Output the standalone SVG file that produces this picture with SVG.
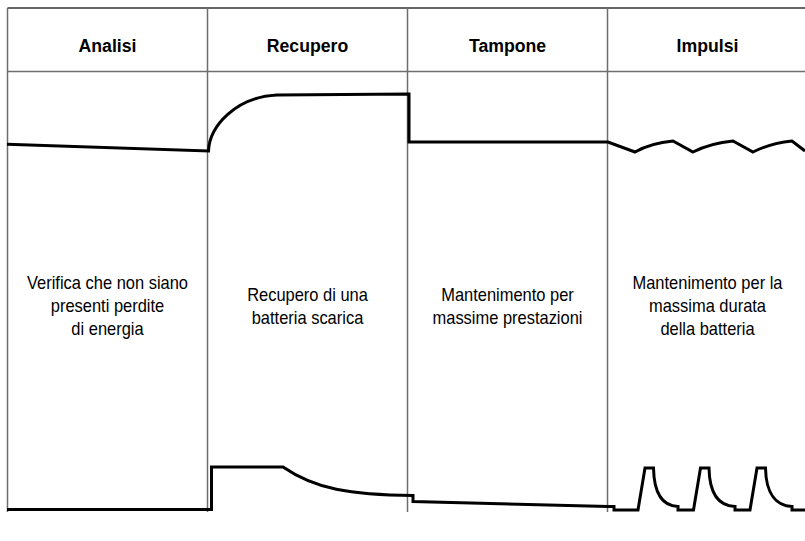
<svg xmlns="http://www.w3.org/2000/svg" width="805" height="541" viewBox="0 0 805 541">
<style>
.grid{stroke:#6e6e6e;stroke-width:1.5;fill:none}
.top{stroke:#333;stroke-width:1.5;fill:none}
.wave{stroke:#000;stroke-width:3;fill:none;stroke-linejoin:miter}
.hdr{font-family:"Liberation Sans",Arial,sans-serif;font-weight:bold;font-size:19px;fill:#000;text-anchor:middle}
.body{font-family:"Liberation Sans",Arial,sans-serif;font-size:18.5px;fill:#000;text-anchor:middle}
</style>
<rect width="805" height="541" fill="#fff"/>
<g id="grid">
<line class="top" x1="7.5" y1="8" x2="805" y2="8"/>
<line class="grid" x1="7.5" y1="71.5" x2="805" y2="71.5"/>
<line class="grid" x1="7.5" y1="8" x2="7.5" y2="512"/>
<line class="grid" x1="207.5" y1="8" x2="207.5" y2="512"/>
<line class="grid" x1="407.5" y1="8" x2="407.5" y2="512"/>
<line class="grid" x1="607.5" y1="8" x2="607.5" y2="512"/>
</g>
<g id="analisi">
<text class="hdr" transform="translate(107.5 52) scale(0.93 1)">Analisi</text>
<g transform="translate(107.5 0) scale(0.89 1)">
<text class="body" x="0" y="289">Verifica che non siano</text>
<text class="body" x="0" y="312">presenti perdite</text>
<text class="body" x="0" y="335">di energia</text>
</g>
</g>
<g id="recupero">
<text class="hdr" transform="translate(307.5 52) scale(0.93 1)">Recupero</text>
<g transform="translate(307.5 0) scale(0.89 1)">
<text class="body" x="0" y="301">Recupero di una</text>
<text class="body" x="0" y="324">batteria scarica</text>
</g>
</g>
<g id="tampone">
<text class="hdr" transform="translate(507.5 52) scale(0.93 1)">Tampone</text>
<g transform="translate(507.5 0) scale(0.89 1)">
<text class="body" x="0" y="301">Mantenimento per</text>
<text class="body" x="0" y="324">massime prestazioni</text>
</g>
</g>
<g id="impulsi">
<text class="hdr" transform="translate(707.5 52) scale(0.93 1)">Impulsi</text>
<g transform="translate(707.5 0) scale(0.89 1)">
<text class="body" x="0" y="289">Mantenimento per la</text>
<text class="body" x="0" y="312">massima durata</text>
<text class="body" x="0" y="335">della batteria</text>
</g>
</g>
<g id="connectors">
<path class="wave" d="M7,144.3 L208.5,151 C209.5,126 236,97 277,95 L409,94 L409,142 L608,142 L635,152 Q651,143 673,141 L693,152 Q711,143 733,141 L753,152 Q771,143 792,141 L805,151"/>
<path class="wave" d="M7,509.5 L211.5,509.5 L211.5,467 L283,467 C315,489 350,495 413,495.5 L413,501.5 L608,506.5 L614,506.5 L614,510 L638,510 L645,468 L653.5,468 C654,495 664,506 678,506.5 L678,510 L693.5,510 L700.5,468 L709,468 C709.5,495 720,506 735,506.5 L735,510 L750,510 L757,468 L765.5,468 C766,495 777,506 792,506.5 L792,510 L805,510"/>
</g>
</svg>
